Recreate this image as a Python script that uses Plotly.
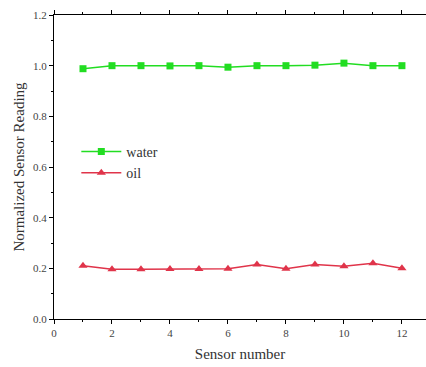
import plotly.graph_objects as go

sensor = [1, 2, 3, 4, 5, 6, 7, 8, 9, 10, 11, 12]
water = [0.988, 1.0, 1.0, 0.999, 1.0, 0.994, 1.0, 1.0, 1.002, 1.01, 1.0, 1.0]
oil = [0.21, 0.196, 0.196, 0.197, 0.197, 0.198, 0.215, 0.198, 0.215, 0.208, 0.22, 0.2]

x_ticks = [0, 2, 4, 6, 8, 10, 12]
y_ticks = [0.0, 0.2, 0.4, 0.6, 0.8, 1.0, 1.2]

FONT = "Liberation Serif"

fig = go.Figure()
fig.add_trace(go.Scatter(
    x=sensor, y=water, name="water", mode="lines+markers",
    line=dict(color="#22dd22", width=1.5),
    marker=dict(symbol="square", size=7, color="#22dd22"),
))
fig.add_trace(go.Scatter(
    x=sensor, y=oil, name="oil", mode="lines+markers",
    line=dict(color="#e0344a", width=1.5),
    marker=dict(symbol="triangle-up", size=8, color="#e0344a"),
))

axis_common = dict(
    showline=True, linecolor="black", linewidth=1.2, mirror="ticks",
    ticks="outside", ticklen=4, tickcolor="black", showgrid=False, zeroline=False,
    tickfont=dict(family=FONT, size=11, color="#444"),
)

fig.update_xaxes(
    range=[0, 12.83], tickvals=x_ticks, ticktext=[str(v) for v in x_ticks],
    minor=dict(dtick=1, ticks="outside", ticklen=2, tickcolor="black"),
    title=dict(text="Sensor number", font=dict(family=FONT, size=15, color="#333"), standoff=10),
    automargin=False,
    **axis_common,
)
fig.update_yaxes(
    range=[0, 1.2], tickvals=y_ticks, ticktext=[f"{v:.1f}" for v in y_ticks],
    minor=dict(dtick=0.1, ticks="outside", ticklen=2, tickcolor="black"),
    title=dict(text="Normalized Sensor Reading", font=dict(family=FONT, size=15, color="#333"), standoff=4),
    automargin=False,
    **axis_common,
)

fig.update_layout(
    width=426, height=367,
    margin=dict(l=54, r=0, t=15, b=48, autoexpand=False),
    plot_bgcolor="white", paper_bgcolor="white",
    showlegend=True,
    legend=dict(x=0.06, y=0.515, xanchor="left", yanchor="middle",
                bgcolor="rgba(0,0,0,0)", font=dict(family=FONT, size=14, color="#333"),
                itemwidth=40, tracegroupgap=0),
)

fig.write_html("out.html")
